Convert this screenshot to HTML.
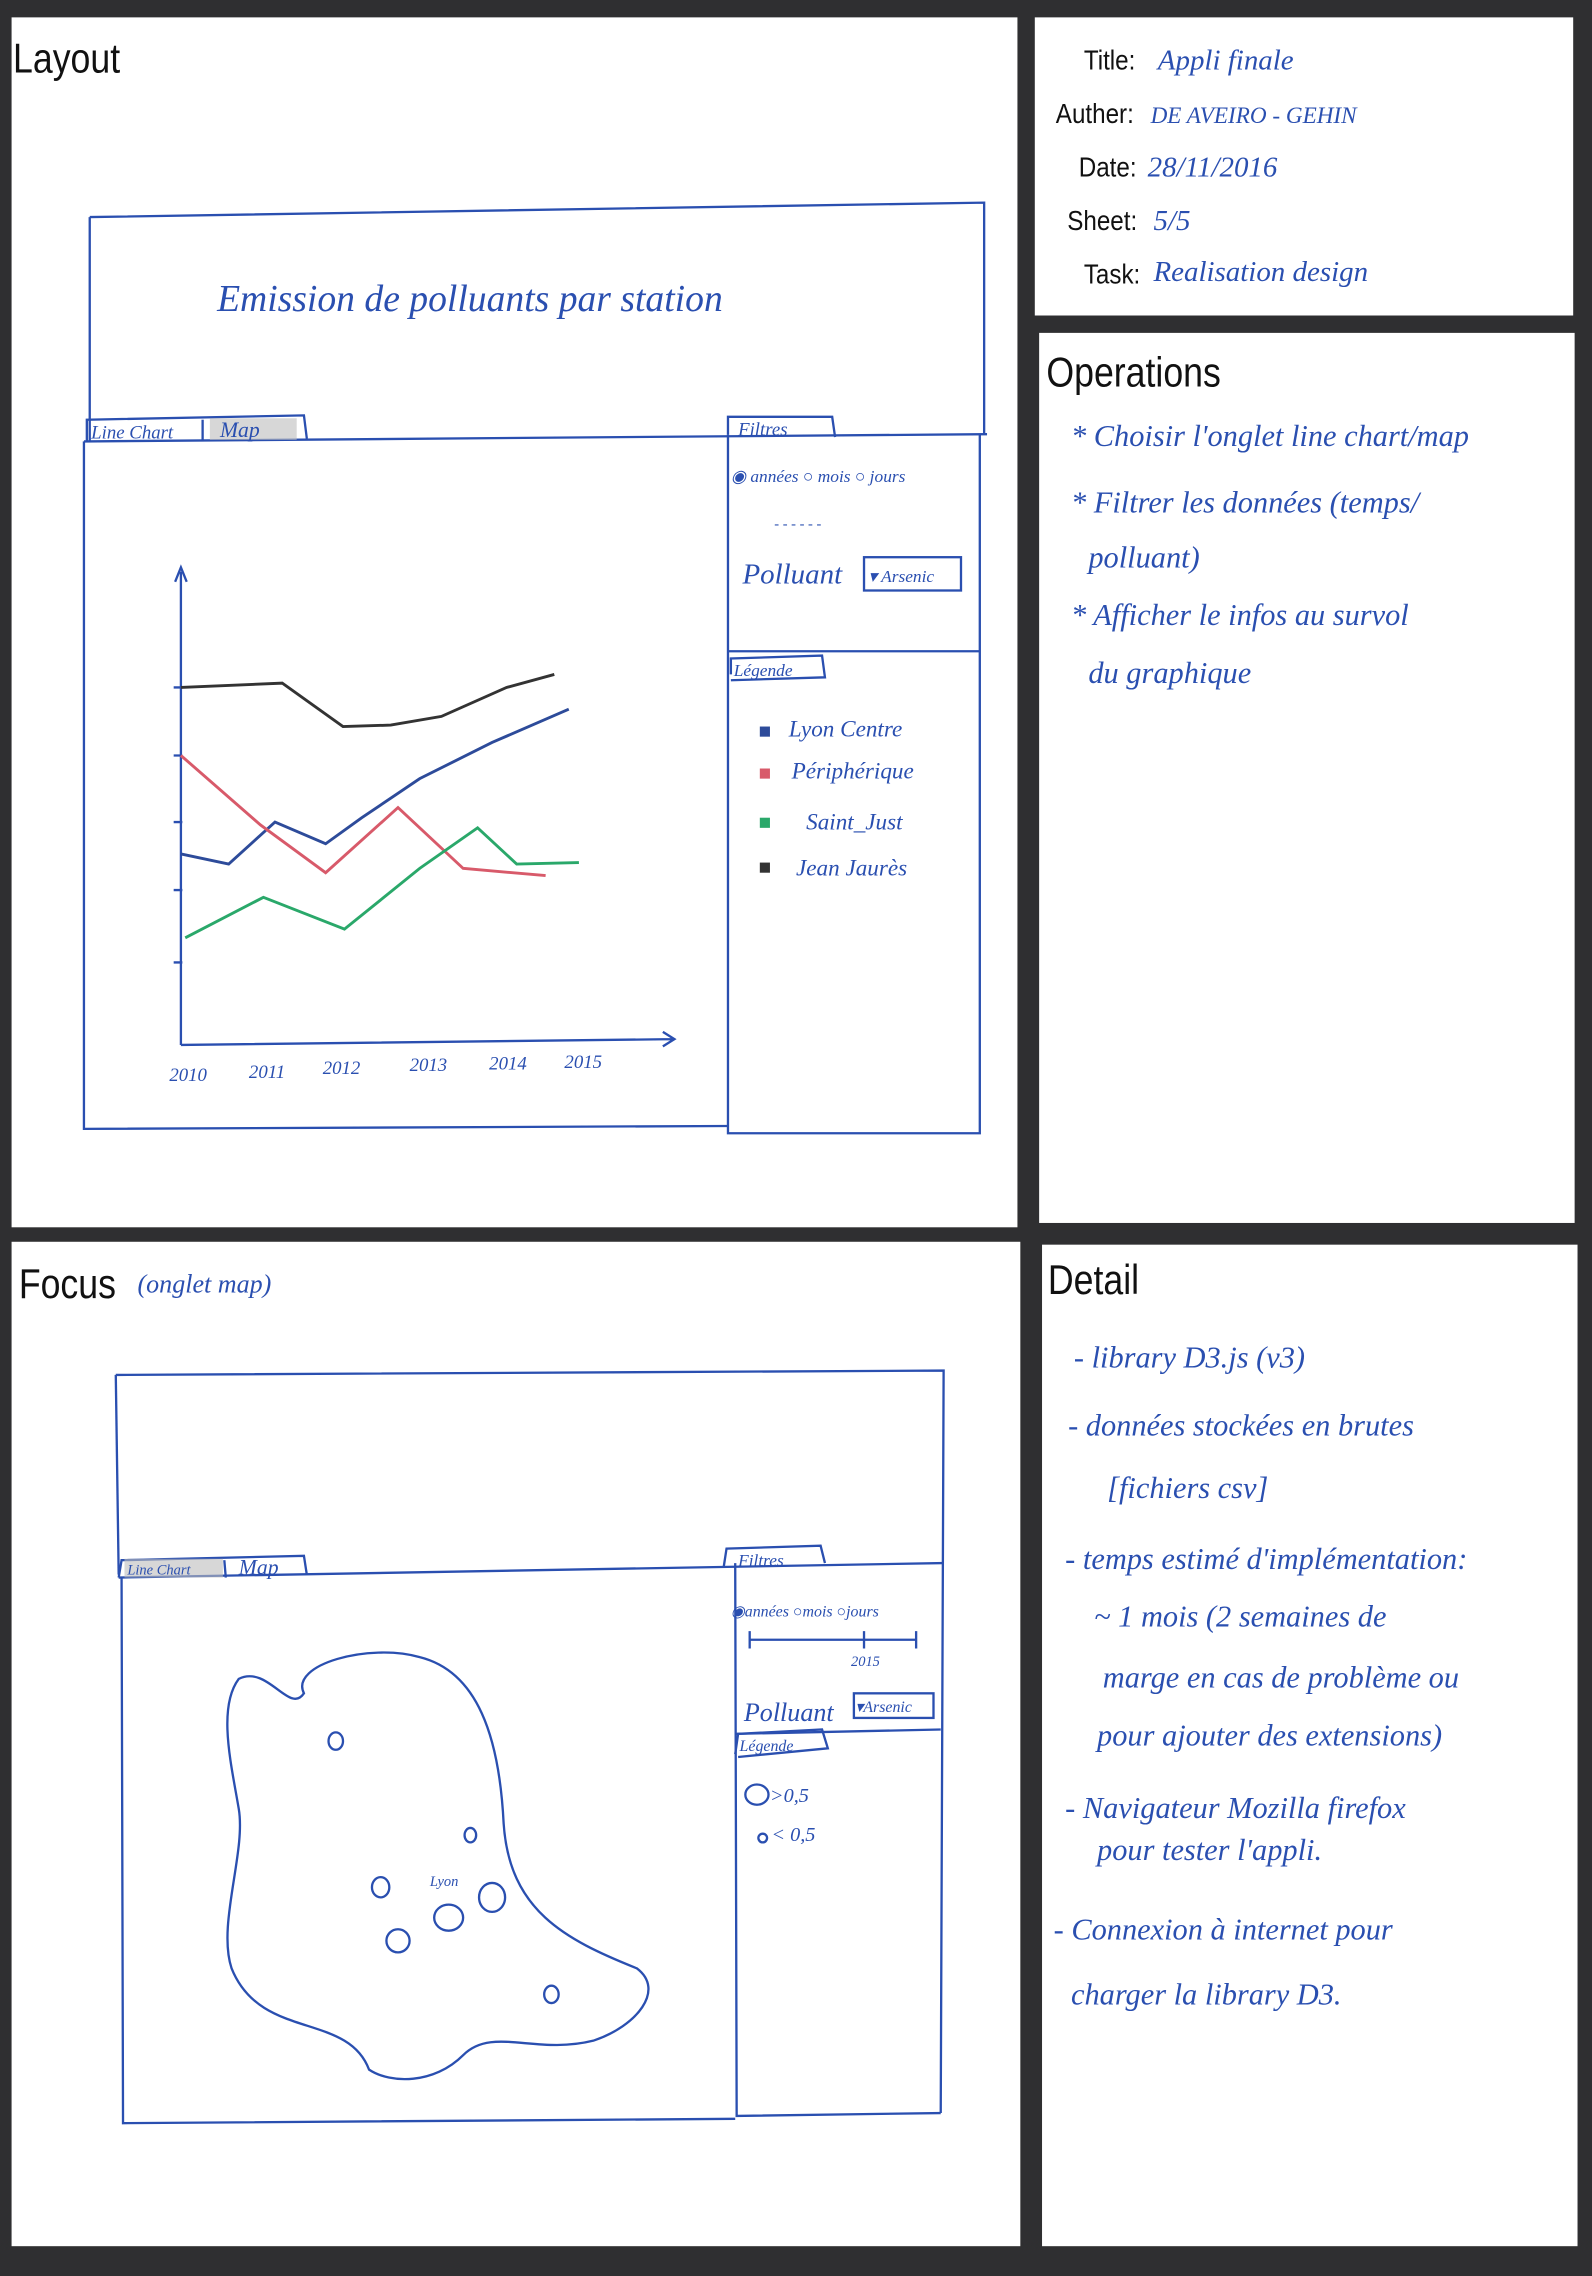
<!DOCTYPE html>
<html><head><meta charset="utf-8">
<style>
html,body{margin:0;padding:0;background:#2f2f31;}
svg{display:block;}
.h{font-family:"Liberation Serif",serif;font-style:italic;fill:#2a4fb0;}
.p{font-family:"Liberation Sans",sans-serif;fill:#111;}
</style></head>
<body>
<svg width="1592" height="2276" viewBox="0 0 1100 1572.6" preserveAspectRatio="none" xmlns="http://www.w3.org/2000/svg">
<rect x="0" y="0" width="1100" height="1573" fill="#2f2f31"/>
<!-- panels -->
<rect x="8" y="12" width="695" height="836" fill="#fff"/>
<rect x="715" y="12" width="372" height="206" fill="#fff"/>
<rect x="718" y="230" width="370" height="615" fill="#fff"/>
<rect x="8" y="858" width="697" height="694" fill="#fff"/>
<rect x="720" y="860" width="370" height="692" fill="#fff"/>

<!-- headings -->
<text x="9" y="50" class="p" font-size="29" transform="scale(0.85,1) translate(1.6,0)">Layout</text>
<text x="13" y="897" class="p" font-size="29" transform="scale(0.85,1) translate(2.3,0)">Focus</text>
<text x="95" y="893" class="h" font-size="18">(onglet map)</text>
<text x="723" y="267" class="p" font-size="29" transform="scale(0.85,1) translate(127.6,0)">Operations</text>
<text x="724" y="894" class="p" font-size="29" transform="scale(0.85,1) translate(127.8,0)">Detail</text>

<!-- title block -->
<g class="p" font-size="19" transform="scale(0.88,1)">
<text x="851" y="48">Title:</text>
<text x="829" y="85">Auther:</text>
<text x="847" y="122">Date:</text>
<text x="838" y="159">Sheet:</text>
<text x="851" y="196">Task:</text>
</g>
<g class="h" font-size="20">
<text x="800" y="48">Appli finale</text>
<text x="795" y="85" font-size="16">DE AVEIRO - GEHIN</text>
<text x="793" y="122">28/11/2016</text>
<text x="797" y="159">5/5</text>
<text x="797" y="194">Realisation design</text>
</g>

<!-- operations -->
<g class="h" font-size="21">
<text x="740" y="308">* Choisir l'onglet line chart/map</text>
<text x="740" y="354">* Filtrer les données (temps/</text>
<text x="752" y="392">polluant)</text>
<text x="740" y="432">* Afficher le infos au survol</text>
<text x="752" y="472">du graphique</text>
</g>

<!-- detail -->
<g class="h" font-size="21">
<text x="742" y="945">- library D3.js (v3)</text>
<text x="738" y="992">- données stockées en brutes</text>
<text x="765" y="1035">[fichiers csv]</text>
<text x="736" y="1084">- temps estimé d'implémentation:</text>
<text x="756" y="1124">~ 1 mois (2 semaines de</text>
<text x="762" y="1166">marge en cas de problème ou</text>
<text x="758" y="1206">pour ajouter des extensions)</text>
<text x="736" y="1256">- Navigateur Mozilla firefox</text>
<text x="758" y="1285">pour tester l'appli.</text>
<text x="728" y="1340">- Connexion à internet pour</text>
<text x="740" y="1385">charger la library D3.</text>
</g>

<!-- LAYOUT sketch -->
<g fill="none" stroke="#2a4fb0" stroke-width="1.6">
<path d="M62 150 L680 140 L680 300"/>
<path d="M62 150 L62 305"/>
<path d="M58 305 L682 300"/>
<path d="M58 305 L58 780 L503 778"/>
<path d="M503 300 L503 783 L677 783 L677 300"/>
<path d="M503 450 L677 450"/>
<path d="M60 305 L60 290 L210 287 L212 303"/>
<path d="M140 290 L140 305"/>
<path d="M503 300 L503 288 L575 288 L577 302"/>
<path d="M505 466 L505 455 L568 453 L570 468 L505 470"/>
<rect x="597" y="385" width="67" height="23"/>
<!-- axes -->
<path d="M125 722 L125 395 M121 402 L125 392 L129 402"/>
<path d="M125 722 L465 718 M458 713 L466 718 L458 723"/>
<path d="M120 475 L126 475 M120 522 L126 522 M120 568 L126 568 M120 615 L126 615 M120 665 L126 665"/>
</g>
<rect x="145" y="289" width="60" height="15" fill="#bdbdbd" opacity="0.6"/>
<g class="h" font-size="13">
<text x="63" y="303">Line Chart</text>
<text x="152" y="302" font-size="15">Map</text>
<text x="510" y="301">Filtres</text>
<text x="507" y="467" font-size="12">Légende</text>
</g>
<text x="150" y="215" class="h" font-size="26">Emission de polluants par station</text>
<text x="505" y="333" class="h" font-size="12">◉ années ○ mois ○ jours</text>
<text x="535" y="365" class="h" font-size="10" fill="#aaa">- - - - - -</text>
<text x="513" y="403" class="h" font-size="20">Polluant</text>
<text x="600" y="402" class="h" font-size="12">▾ Arsenic</text>
<!-- chart lines -->
<g fill="none" stroke-width="2">
<path d="M125 475 L195 472 L237 502 L270 501 L305 495 L350 475 L383 466" stroke="#333"/>
<path d="M125 590 L158 597 L190 568 L225 583 L250 565 L290 538 L340 513 L393 490" stroke="#2d4b9a"/>
<path d="M125 522 L180 570 L225 603 L275 558 L320 600 L377 605" stroke="#d85a6a"/>
<path d="M128 648 L182 620 L238 642 L290 600 L330 572 L357 597 L400 596" stroke="#2aa86a"/>
</g>
<g class="h" font-size="13">
<text x="117" y="747">2010</text><text x="172" y="745">2011</text><text x="223" y="742">2012</text>
<text x="283" y="740">2013</text><text x="338" y="739">2014</text><text x="390" y="738">2015</text>
</g>
<rect x="525" y="502" width="7" height="7" fill="#2d4b9a"/>
<rect x="525" y="531" width="7" height="7" fill="#d85a6a"/>
<rect x="525" y="565" width="7" height="7" fill="#2aa86a"/>
<rect x="525" y="596" width="7" height="7" fill="#333"/>
<g class="h" font-size="16">
<text x="545" y="509">Lyon Centre</text>
<text x="547" y="538">Périphérique</text>
<text x="557" y="573">Saint_Just</text>
<text x="550" y="605">Jean Jaurès</text>
</g>

<!-- FOCUS sketch -->
<g fill="none" stroke="#2a4fb0" stroke-width="1.6">
<path d="M80 950 L652 947 L650 1460"/>
<path d="M80 950 L82 1088"/>
<path d="M82 1090 L652 1080"/>
<path d="M84 1090 L85 1467 L508 1464"/>
<path d="M508 1080 L509 1462 L650 1460"/>
<path d="M82 1090 L84 1078 L210 1075 L212 1088"/>
<path d="M155 1078 L156 1090"/>
<path d="M500 1083 L502 1070 L567 1068 L570 1080"/>
<path d="M508 1198 L650 1195"/>
<path d="M508 1212 L510 1198 L568 1195 L572 1208 L510 1214"/>
<rect x="590" y="1170" width="55" height="17"/>
<path d="M518 1133 L633 1133 M518 1127 L518 1139 M597 1127 L597 1139 M633 1127 L633 1139"/>
<!-- map blob -->
<path d="M210 1170 C200 1150 255 1135 290 1145 C330 1155 345 1200 348 1260 C352 1320 390 1340 440 1360 C460 1375 440 1400 410 1410 C370 1420 340 1400 320 1420 C300 1440 270 1440 255 1430 C240 1390 180 1410 160 1360 C150 1330 170 1280 165 1250 C160 1220 150 1180 165 1160 C185 1150 200 1185 210 1170 Z"/>
<ellipse cx="232" cy="1203" rx="5" ry="6"/>
<ellipse cx="325" cy="1268" rx="4" ry="5"/>
<ellipse cx="263" cy="1304" rx="6" ry="7"/>
<ellipse cx="310" cy="1325" rx="10" ry="9"/>
<ellipse cx="340" cy="1311" rx="9" ry="10"/>
<ellipse cx="275" cy="1341" rx="8" ry="8"/>
<ellipse cx="381" cy="1378" rx="5" ry="6"/>
<ellipse cx="523" cy="1240" rx="8" ry="7"/>
<ellipse cx="527" cy="1270" rx="3" ry="3"/>
</g>
<rect x="86" y="1077" width="68" height="13" fill="#bdbdbd" opacity="0.6"/>
<g class="h" font-size="12">
<text x="88" y="1088" font-size="10">Line Chart</text>
<text x="165" y="1088" font-size="15">Map</text>
<text x="510" y="1082">Filtres</text>
<text x="505" y="1117" font-size="11">◉années ○mois ○jours</text>
<text x="588" y="1151" font-size="10">2015</text>
<text x="514" y="1189" font-size="18">Polluant</text>
<text x="591" y="1183" font-size="11">▾Arsenic</text>
<text x="511" y="1210" font-size="11">Légende</text>
<text x="532" y="1245" font-size="14">&gt;0,5</text>
<text x="533" y="1272" font-size="14">&lt; 0,5</text>
<text x="297" y="1303" font-size="10">Lyon</text>
</g>
</svg>
</body></html>
